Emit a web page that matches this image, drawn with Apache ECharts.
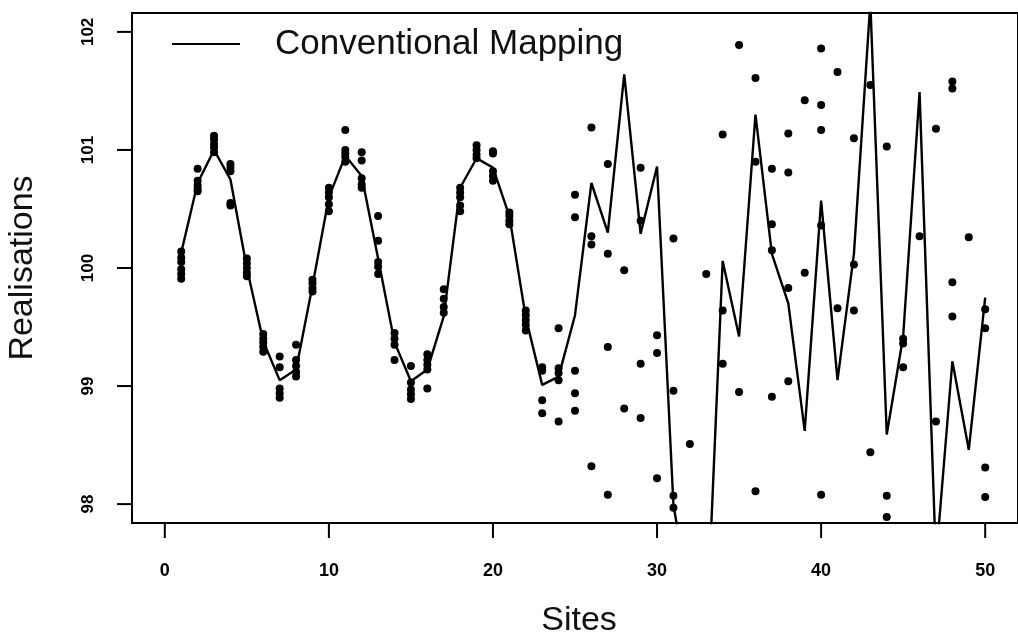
<!DOCTYPE html>
<html>
<head>
<meta charset="utf-8">
<script src="https://cdn.jsdelivr.net/npm/echarts@6/dist/echarts.min.js"></script>
<style>
  html, body { margin: 0; padding: 0; background: #fff; }
  #chart { width: 1018px; height: 642px; }
</style>
</head>
<body>
<div id="chart"></div>
<script>
// Site indices along the transect
const sites = [1, 2, 3, 4, 5, 6, 7, 8, 9, 10, 11, 12, 13, 14, 15, 16, 17, 18, 19, 20,
  21, 22, 23, 24, 25, 26, 27, 28, 29, 30, 31, 32, 33, 34, 35, 36, 37, 38, 39, 40,
  41, 42, 43, 44, 45, 46, 47, 48, 49, 50];

// Conventional mapping estimate at each site
const conventional = [100.13, 100.72, 101.00, 100.75, 100.00, 99.38, 99.05, 99.14, 99.85, 100.60,
  100.95, 100.78, 100.08, 99.37, 99.04, 99.14, 99.59, 100.68, 100.93, 100.85,
  100.44, 99.58, 99.01, 99.08, 99.60, 100.72, 100.30, 101.64, 100.29, 100.86,
  97.99, 97.20, 96.83, 100.06, 99.42, 101.30, 100.12, 99.70, 98.62, 100.57,
  99.05, 100.12, 102.25, 98.59, 99.42, 101.49, 97.52, 99.21, 98.46, 99.75];

// Realisations observed at each site (one list per site)
const realisations = [
  [100.14, 100.09, 100.05, 99.99, 99.95, 99.91],
  [100.84, 100.74, 100.70, 100.67, 100.65],
  [101.12, 101.09, 101.05, 101.02, 100.98],
  [100.88, 100.85, 100.82, 100.55, 100.53],
  [100.08, 100.04, 100.00, 99.96, 99.93],
  [99.44, 99.40, 99.37, 99.33, 99.29],
  [99.25, 99.16, 98.98, 98.94, 98.90],
  [99.35, 99.22, 99.17, 99.12, 99.08],
  [99.90, 99.87, 99.83, 99.80],
  [100.68, 100.64, 100.60, 100.54, 100.48],
  [101.17, 101.00, 100.97, 100.94, 100.90],
  [100.98, 100.91, 100.76, 100.71, 100.68],
  [100.44, 100.23, 100.05, 100.01, 99.95],
  [99.45, 99.40, 99.35, 99.22],
  [99.17, 99.03, 98.97, 98.93, 98.89],
  [99.27, 99.22, 99.18, 99.14, 98.98],
  [99.82, 99.74, 99.67, 99.62],
  [100.68, 100.64, 100.60, 100.53, 100.48],
  [101.04, 101.00, 100.96, 100.93],
  [100.99, 100.97, 100.82, 100.78, 100.74],
  [100.47, 100.44, 100.40, 100.37],
  [99.64, 99.60, 99.56, 99.52, 99.47],
  [99.16, 99.13, 98.88, 98.77],
  [99.49, 99.15, 99.11, 99.05, 98.70],
  [100.62, 100.43, 99.13, 98.94, 98.79],
  [101.19, 100.27, 100.20, 98.32],
  [100.88, 100.12, 99.33, 98.08],
  [99.98, 98.81],
  [100.85, 100.40, 99.19, 98.73],
  [99.43, 99.28, 98.22],
  [100.25, 98.96, 98.07, 97.97],
  [98.51],
  [99.95],
  [101.13, 99.64, 99.19],
  [101.89, 98.95],
  [101.61, 100.90, 98.11],
  [100.84, 100.37, 100.15, 98.91],
  [101.14, 100.81, 99.83, 99.04],
  [101.42, 99.96],
  [101.86, 101.38, 101.17, 100.36, 98.08],
  [101.66, 99.66],
  [101.10, 100.03, 99.64],
  [101.55, 98.44],
  [101.03, 98.07, 97.89],
  [99.40, 99.36, 99.16],
  [100.27],
  [101.18, 98.70],
  [101.58, 101.52, 99.88, 99.59],
  [100.26],
  [99.65, 99.49, 98.31, 98.06]
];

// Tick positions and axis titles
const xTicks = [0, 10, 20, 30, 40, 50];
const yTicks = [98, 99, 100, 101, 102];
const xTitle = 'Sites';
const yTitle = 'Realisations';

const X_MIN = -2, X_MAX = 52, Y_MIN = 97.84, Y_MAX = 102.16;
const TICK_LEN = 15;

const linePoints = sites.map((s, i) => [s, conventional[i]]);
const scatterPoints = [];
sites.forEach((s, i) => {
  realisations[i].forEach(v => scatterPoints.push([s, v]));
});

const chart = echarts.init(document.getElementById('chart'), null, { renderer: 'canvas' });
const font = 'Liberation Sans, Arial, Helvetica, sans-serif';

const titleGraphics = [
  {
    type: 'text', x: 579, y: 621, silent: true,
    style: { text: xTitle, font: '34px ' + font, fill: '#111', align: 'center', verticalAlign: 'middle' }
  },
  {
    type: 'text', x: 23, y: 268, rotation: Math.PI / 2, silent: true,
    style: { text: yTitle, font: '34px ' + font, fill: '#111', align: 'center', verticalAlign: 'middle' }
  }
];

chart.setOption({
  backgroundColor: '#ffffff',
  animation: false,
  grid: {
    left: 132, right: -8, top: 13, bottom: 119,
    show: true, borderColor: '#000', borderWidth: 2
  },
  legend: {
    left: 167, top: 19,
    itemWidth: 68, itemHeight: 2,
    data: [{ name: 'Conventional Mapping', icon: 'rect' }],
    itemStyle: { color: '#000' },
    textStyle: { fontFamily: font, fontSize: 35, color: '#111', lineHeight: 40, padding: [0, 0, 0, 30] }
  },
  graphic: titleGraphics,
  xAxis: {
    type: 'value', min: X_MIN, max: X_MAX,
    axisLine: { show: true, onZero: false, lineStyle: { color: '#000', width: 2 } },
    axisTick: { show: false },
    axisLabel: { customValues: xTicks, margin: 39, fontFamily: font, fontSize: 18, fontWeight: 'bold', color: '#000' },
    splitLine: { show: false }
  },
  yAxis: {
    type: 'value', min: Y_MIN, max: Y_MAX,
    axisLine: { show: true, onZero: false, lineStyle: { color: '#000', width: 2 } },
    axisTick: { show: false },
    axisLabel: { customValues: yTicks, rotate: 90, margin: 35, fontFamily: font, fontSize: 17, fontWeight: 'bold', color: '#000' },
    splitLine: { show: false }
  },
  series: [
    {
      name: 'Conventional Mapping',
      type: 'line',
      data: linePoints,
      symbol: 'none',
      clip: true,
      lineStyle: { color: '#000', width: 2.4 },
      itemStyle: { color: '#000' },
      z: 2
    },
    {
      name: 'Realisations',
      type: 'scatter',
      data: scatterPoints,
      symbol: 'circle',
      symbolSize: 8,
      clip: true,
      itemStyle: { color: '#000', opacity: 1 },
      z: 3
    }
  ]
});

// Outward tick marks, placed through the axes' own scales
const frameLeft = chart.convertToPixel({ xAxisIndex: 0 }, X_MIN);
const frameBottom = chart.convertToPixel({ yAxisIndex: 0 }, Y_MIN);
const tickStyle = { stroke: '#000', lineWidth: 2 };
const tickGraphics = [];
xTicks.forEach(v => {
  const px = chart.convertToPixel({ xAxisIndex: 0 }, v);
  tickGraphics.push({
    type: 'line', silent: true, z: 10,
    shape: { x1: px, y1: frameBottom, x2: px, y2: frameBottom + TICK_LEN },
    style: tickStyle
  });
});
yTicks.forEach(v => {
  const py = chart.convertToPixel({ yAxisIndex: 0 }, v);
  tickGraphics.push({
    type: 'line', silent: true, z: 10,
    shape: { x1: frameLeft - TICK_LEN, y1: py, x2: frameLeft, y2: py },
    style: tickStyle
  });
});
chart.setOption({ graphic: titleGraphics.concat(tickGraphics) });
</script>
</body>
</html>
